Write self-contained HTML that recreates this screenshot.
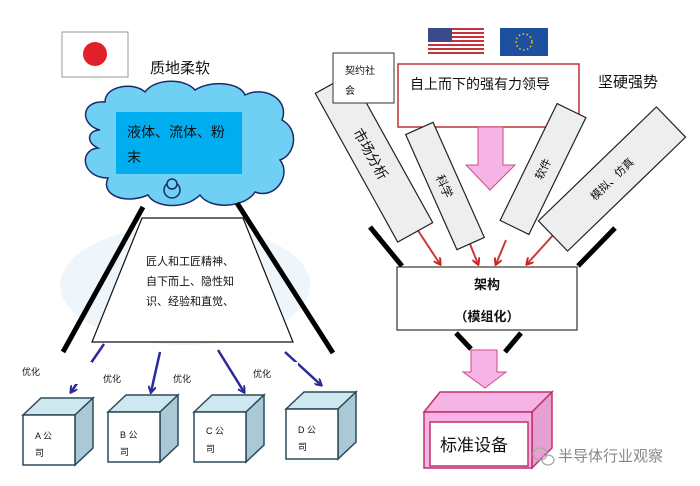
<!DOCTYPE html>
<html><head><meta charset="utf-8"><style>
body{margin:0;background:#fff;}
svg{display:block;}
text{font-family:"Liberation Sans","Noto Sans CJK SC",sans-serif;}
</style></head><body>
<svg width="700" height="486" viewBox="0 0 700 486" xmlns="http://www.w3.org/2000/svg">
<defs>
<marker id="ba" markerWidth="8" markerHeight="8" refX="6" refY="4" orient="auto" markerUnits="userSpaceOnUse"><path d="M0,0 L7,4 L0,8" fill="none" stroke="#2a2a9a" stroke-width="2"/></marker>
<marker id="ra" markerWidth="8" markerHeight="8" refX="6" refY="4" orient="auto" markerUnits="userSpaceOnUse"><path d="M0,0 L7,4 L0,8" fill="none" stroke="#d02020" stroke-width="2"/></marker>
</defs>
<!-- Japan flag -->
<rect x="62" y="32" width="66" height="45" fill="#fff" stroke="#999"/>
<circle cx="95" cy="54" r="12" fill="#e0202a"/>
<text x="150" y="73" font-size="15" fill="#111">质地柔软</text>
<!-- faint background cloud -->
<ellipse cx="185" cy="285" rx="125" ry="60" fill="#eef6fb"/>
<!-- cloud -->
<g fill="#70d0f4" stroke="#1a2a6a" stroke-width="1.5">
<path d="M100,130 C80,125 80,100 105,102 C105,85 135,82 145,92 C155,78 185,78 195,90 C210,80 240,82 245,95 C265,85 290,100 282,120 C300,130 295,155 280,160 C292,175 275,200 255,192 C245,208 210,210 200,195 C185,210 155,208 148,195 C125,205 100,195 108,178 C82,178 78,150 98,148 C85,142 88,130 100,130 Z"/>
<circle cx="172" cy="190" r="8"/><circle cx="172" cy="184" r="5"/>
</g>
<rect x="116" y="112" width="126" height="62" fill="#00aeef"/>
<text x="127" y="137" font-size="14" fill="#111">液体、流体、粉</text>
<text x="127" y="162" font-size="14" fill="#111">末</text>
<!-- black lines -->
<line x1="143" y1="207" x2="63" y2="352" stroke="#000" stroke-width="5"/>
<line x1="237" y1="203" x2="333" y2="353" stroke="#000" stroke-width="5"/>
<!-- trapezoid -->
<polygon points="142,218 243,218 293,342 92,342" fill="#fff" stroke="#111" stroke-width="1.2"/>
<text font-size="11" fill="#111"><tspan x="146" y="265">匠人和工匠精神、</tspan><tspan x="146" y="285">自下而上、隐性知</tspan><tspan x="146" y="305">识、经验和直觉、</tspan></text>
<!-- blue arrows -->
<g stroke="#2a2a9a" stroke-width="2.5" marker-end="url(#ba)">
<line x1="104" y1="344" x2="71" y2="392"/>
<line x1="160" y1="352" x2="151" y2="392"/>
<line x1="218" y1="350" x2="244" y2="392"/>
<line x1="285" y1="352" x2="321" y2="385"/>
</g>
<rect x="70" y="362" width="22" height="22" fill="#fff"/>
<rect x="95" y="366" width="50" height="22" fill="#fff"/>
<rect x="165" y="366" width="55" height="22" fill="#fff"/>
<rect x="243" y="362" width="55" height="22" fill="#fff"/>
<g font-size="9" fill="#111">
<text x="22" y="375">优化</text><text x="103" y="382">优化</text><text x="173" y="382">优化</text><text x="253" y="377">优化</text>
</g>
<!-- cubes -->
<g stroke="#2d4a5a" stroke-width="1.5">
<g transform="translate(23,415)"><polygon points="0,0 18,-17 70,-17 52,0" fill="#cfe8f0"/><polygon points="52,0 70,-17 70,33 52,50" fill="#a9c9d6"/><rect x="0" y="0" width="52" height="50" fill="#fff"/><text x="12" y="24" font-size="9" fill="#111" stroke="none">A 公</text><text x="12" y="41" font-size="9" fill="#111" stroke="none">司</text></g>
<g transform="translate(108,412)"><polygon points="0,0 18,-17 70,-17 52,0" fill="#cfe8f0"/><polygon points="52,0 70,-17 70,33 52,50" fill="#a9c9d6"/><rect x="0" y="0" width="52" height="50" fill="#fff"/><text x="12" y="26" font-size="9" fill="#111" stroke="none">B 公</text><text x="12" y="43" font-size="9" fill="#111" stroke="none">司</text></g>
<g transform="translate(194,412)"><polygon points="0,0 18,-17 70,-17 52,0" fill="#cfe8f0"/><polygon points="52,0 70,-17 70,33 52,50" fill="#a9c9d6"/><rect x="0" y="0" width="52" height="50" fill="#fff"/><text x="12" y="22" font-size="9" fill="#111" stroke="none">C 公</text><text x="12" y="40" font-size="9" fill="#111" stroke="none">司</text></g>
<g transform="translate(286,409)"><polygon points="0,0 18,-17 70,-17 52,0" fill="#cfe8f0"/><polygon points="52,0 70,-17 70,33 52,50" fill="#a9c9d6"/><rect x="0" y="0" width="52" height="50" fill="#fff"/><text x="12" y="24" font-size="9" fill="#111" stroke="none">D 公</text><text x="12" y="41" font-size="9" fill="#111" stroke="none">司</text></g>
</g>
<!-- US flag -->
<g>
<rect x="428" y="28" width="56" height="27" fill="#fff"/>
<g fill="#c8323c"><rect x="428" y="28" width="56" height="2"/><rect x="428" y="32" width="56" height="2"/><rect x="428" y="36" width="56" height="2"/><rect x="428" y="40" width="56" height="2"/><rect x="428" y="44" width="56" height="2"/><rect x="428" y="48" width="56" height="2"/><rect x="428" y="52" width="56" height="2"/></g>
<rect x="428" y="28" width="24" height="14" fill="#3a4a8a"/>
</g>
<rect x="500" y="28" width="48" height="28" fill="#1e50a0"/>
<circle cx="524" cy="42" r="8" fill="none" stroke="#f5d000" stroke-width="1.5" stroke-dasharray="1.5 2.5"/>
<!-- main box -->
<rect x="398" y="64" width="181" height="63" fill="#fff" stroke="#c03030" stroke-width="1.5"/>
<text x="410" y="89" font-size="14" fill="#111">自上而下的强有力领导</text>
<text x="598" y="87" font-size="15" fill="#111">坚硬强势</text>
<!-- pink arrow -->
<polygon points="478,127 503,127 503,165 515,165 490,190 466,165 478,165" fill="#f6b4e6" stroke="#d04a8a" stroke-width="1"/>
<!-- red arrows -->
<g stroke="#c83a3a" stroke-width="2" marker-end="url(#ra)">
<line x1="415" y1="226" x2="440" y2="264"/>
<line x1="470" y1="244" x2="478" y2="264"/>
<line x1="506" y1="240" x2="496" y2="264"/>
<line x1="555" y1="233" x2="527" y2="264"/>
</g>
<!-- rotated boxes -->
<g fill="#eee" stroke="#222" stroke-width="1.2">
<g transform="translate(374,158) rotate(61)"><rect x="-85" y="-20" width="170" height="40"/><text x="-5" y="6" font-size="14" fill="#111" stroke="none" text-anchor="middle">市场分析</text></g>
<g transform="translate(445,186) rotate(66)"><rect x="-63" y="-15" width="126" height="30"/><text x="0" y="5" font-size="12" fill="#111" stroke="none" text-anchor="middle">科学</text></g>
<g transform="translate(543,169) rotate(116)"><rect x="-65" y="-16" width="130" height="32"/><text x="0" y="4" font-size="11" fill="#111" stroke="none" text-anchor="middle" transform="rotate(180)">软件</text></g>
<g transform="translate(612,179) rotate(136)"><rect x="-82" y="-21" width="164" height="42"/><text x="0" y="4" font-size="11" fill="#111" stroke="none" text-anchor="middle" transform="rotate(180)">模拟、仿真</text></g>
</g>
<!-- 契约社会 -->
<rect x="333" y="53" width="61" height="50" fill="#fff" stroke="#333"/>
<text x="345" y="74" font-size="10" fill="#111">契约社</text>
<text x="345" y="94" font-size="10" fill="#111">会</text>
<!-- black lines right -->
<line x1="370" y1="227" x2="402" y2="266" stroke="#000" stroke-width="5"/>
<line x1="615" y1="228" x2="578" y2="266" stroke="#000" stroke-width="5"/>
<!-- 架构 -->
<rect x="397" y="267" width="180" height="63" fill="#fff" stroke="#333" stroke-width="1.2"/>
<text x="487" y="289" font-size="13" font-weight="bold" fill="#111" text-anchor="middle">架构</text>
<text x="487" y="321" font-size="13" font-weight="bold" fill="#111" text-anchor="middle">（模组化）</text>
<line x1="456" y1="333" x2="471" y2="349" stroke="#000" stroke-width="5"/>
<line x1="521" y1="333" x2="505" y2="352" stroke="#000" stroke-width="5"/>
<polygon points="471,350 497,350 497,372 506,372 485,388 463,372 471,372" fill="#f6b4e6" stroke="#d04a8a" stroke-width="1"/>
<!-- standard device -->
<g stroke="#c0306a" stroke-width="1.5">
<polygon points="424,412 440,392 552,392 532,412" fill="#f6b4e6"/>
<polygon points="532,412 552,392 552,448 532,468" fill="#e4a0d0"/>
<rect x="424" y="412" width="108" height="56" fill="#f6b4e6"/>
<rect x="430" y="422" width="98" height="44" fill="#fff"/>
</g>
<text x="440" y="451" font-size="17" fill="#111">标准设备</text>
<!-- watermark -->
<g fill="none" stroke="#aaa" stroke-width="1.3"><ellipse cx="540" cy="454" rx="7" ry="6"/><ellipse cx="548" cy="460" rx="6" ry="5"/></g>
<text x="558" y="461" font-size="15" fill="#888">半导体行业观察</text>
</svg>
</body></html>
